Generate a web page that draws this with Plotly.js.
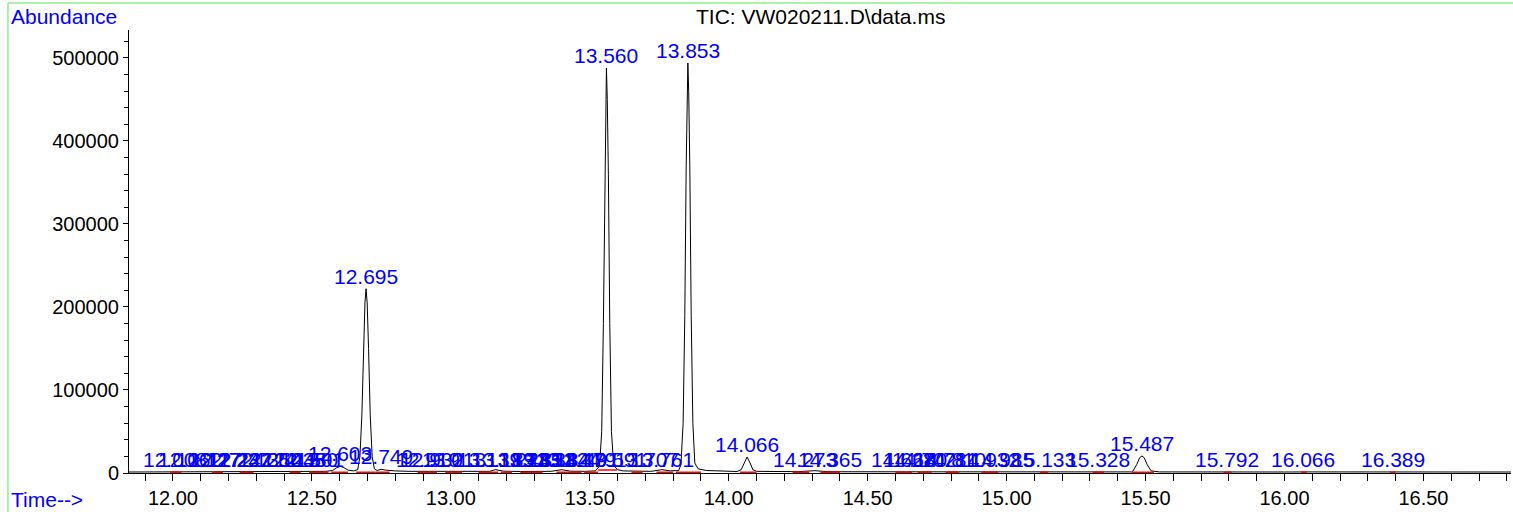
<!DOCTYPE html>
<html>
<head>
<meta charset="utf-8">
<script src="https://cdn.plot.ly/plotly-3.0.1.min.js"></script>
<style>html,body{margin:0;padding:0;background:#fff;}#chart{width:1513px;height:512px;}</style>
</head>
<body>
<div id="chart"></div>
<script>
// Total ion chromatogram (time in min, abundance)
var ticTime = [11.842, 11.90, 11.95, 12.00, 12.05, 12.10, 12.15, 12.20, 12.25, 12.30, 12.35, 12.40, 12.45, 12.50, 12.55, 12.575, 12.59, 12.603, 12.615, 12.63, 12.65, 12.665, 12.673, 12.680, 12.686, 12.691, 12.695, 12.699, 12.704, 12.710, 12.717, 12.725, 12.735, 12.749, 12.765, 12.80, 12.85, 12.90, 12.932, 12.96, 13.00, 13.05, 13.10, 13.14, 13.16, 13.19, 13.25, 13.30, 13.36, 13.40, 13.43, 13.48, 13.52, 13.535, 13.543, 13.549, 13.554, 13.557, 13.560, 13.563, 13.567, 13.572, 13.578, 13.586, 13.60, 13.62, 13.66, 13.72, 13.76, 13.79, 13.82, 13.828, 13.836, 13.842, 13.847, 13.850, 13.853, 13.856, 13.860, 13.865, 13.871, 13.878, 13.89, 13.92, 13.95, 14.00, 14.03, 14.045, 14.055, 14.066, 14.077, 14.087, 14.10, 14.15, 14.20, 14.25, 14.31, 14.35, 14.40, 14.50, 14.60, 14.70, 14.80, 14.90, 15.00, 15.10, 15.20, 15.30, 15.40, 15.45, 15.455, 15.468, 15.479, 15.487, 15.495, 15.506, 15.52, 15.55, 15.60, 15.70, 15.80, 15.90, 16.00, 16.10, 16.20, 16.30, 16.40, 16.50, 16.60, 16.70, 16.815];
var ticAbund = [1200, 1300, 1200, 1400, 1300, 1200, 1300, 1400, 1300, 1400, 1300, 1500, 1600, 1700, 2000, 3000, 6500, 8000, 6500, 3500, 2500, 4000, 20000, 70000, 150000, 205000, 222000, 205000, 150000, 70000, 20000, 5000, 3000, 4500, 3500, 2500, 2000, 2000, 2500, 2000, 1800, 1800, 1900, 2000, 4000, 2200, 1800, 1900, 2000, 4000, 2200, 2000, 2500, 8000, 50000, 180000, 360000, 450000, 488000, 450000, 360000, 180000, 50000, 9000, 4000, 2500, 2000, 2000, 4000, 2500, 3000, 10000, 60000, 190000, 370000, 460000, 494000, 460000, 370000, 190000, 60000, 12000, 5000, 3000, 2500, 1800, 1800, 4000, 12000, 19300, 12000, 4000, 2000, 1600, 1500, 1600, 2800, 1700, 1500, 1400, 1500, 1400, 1300, 1400, 1300, 1300, 1400, 1300, 1300, 1300, 2500, 10000, 18500, 20500, 18500, 10000, 2500, 1300, 1200, 1200, 1300, 1200, 1200, 1300, 1200, 1200, 1200, 1200, 1200, 1200, 1200];

// Peak labels (retention time, apex abundance)
var labelTimes = [12.008, 12.062, 12.127, 12.172, 12.237, 12.242, 12.350, 12.412, 12.435, 12.480, 12.501, 12.603, 12.695, 12.749, 12.919, 12.932, 13.013, 13.139, 13.189, 13.244, 13.285, 13.331, 13.384, 13.424, 13.479, 13.491, 13.560, 13.591, 13.707, 13.761, 13.853, 14.066, 14.273, 14.365, 14.628, 14.670, 14.702, 14.781, 14.810, 14.932, 14.985, 15.133, 15.328, 15.487, 15.792, 16.066, 16.389];
var labelHeights = [1500, 1500, 1500, 1500, 1500, 1500, 1500, 1500, 1500, 1500, 1500, 8500, 222000, 4500, 1500, 1500, 1500, 1500, 1500, 1500, 1500, 1500, 1500, 1500, 1500, 1500, 488000, 1500, 1500, 1500, 494000, 19300, 1500, 1500, 1500, 1500, 1500, 1500, 1500, 1500, 1500, 1500, 1500, 20500, 1500, 1500, 1500];

// Integration baselines (red)
var intStart = [11.99, 12.14, 12.24, 12.42, 12.49, 12.57, 12.66, 12.73, 12.88, 12.98, 13.10, 13.18, 13.25, 13.38, 13.48, 13.53, 13.65, 13.74, 13.81, 14.04, 14.23, 14.33, 14.60, 14.68, 14.78, 14.91, 15.12, 15.31, 15.45, 15.78, 16.06, 16.38];
var intEnd   = [12.03, 12.18, 12.29, 12.46, 12.56, 12.63, 12.73, 12.78, 12.95, 13.04, 13.17, 13.22, 13.33, 13.47, 13.53, 13.598, 13.69, 13.80, 13.90, 14.10, 14.29, 14.40, 14.66, 14.73, 14.83, 14.97, 15.15, 15.35, 15.53, 15.81, 16.08, 16.40];
var intLevel = [900, 900, 900, 900, 900, 900, 900, 900, 900, 900, 900, 900, 900, 900, 900, 3600, 900, 900, 900, 900, 900, 900, 900, 900, 900, 900, 900, 900, 900, 900, 900, 900];

var titleText = "TIC: VW020211.D\\data.ms";
var yLabel = "Abundance";
var xLabel = "Time-->";

var FONT = "Liberation Sans, Arial, sans-serif";
var FS = 20;
var FSA = 21;

var redX = [], redY = [];
for (var i = 0; i < intStart.length; i++) {
  redX.push(intStart[i], intEnd[i], null);
  redY.push(intLevel[i], intLevel[i], null);
}

var traces = [
  {x: ticTime, y: ticAbund, type: 'scatter', mode: 'lines', line: {color: '#000000', width: 1}, hoverinfo: 'skip'},
  {x: redX, y: redY, type: 'scatter', mode: 'lines', line: {color: '#ff0000', width: 1.5}, connectgaps: false, hoverinfo: 'skip'}
];

var annotations = labelTimes.map(function (t, i) {
  return {x: t, y: labelHeights[i], xref: 'x', yref: 'y', text: t.toFixed(3), showarrow: false,
          xanchor: 'center', yanchor: 'bottom', font: {family: FONT, size: FSA, color: '#0000ff'}, borderpad: 0};
});
annotations.push({x: 0.5, y: 1, xref: 'paper', yref: 'paper', text: titleText, showarrow: false,
  xanchor: 'center', yanchor: 'bottom', yshift: 0, font: {family: FONT, size: FSA, color: '#000000'}});
annotations.push({x: -0.0869, y: 1, xref: 'paper', yref: 'paper', text: yLabel, showarrow: false,
  xanchor: 'left', yanchor: 'bottom', yshift: 0, font: {family: FONT, size: FSA, color: '#0000ff'}});
annotations.push({x: -0.0869, y: 0, xref: 'paper', yref: 'paper', text: xLabel, showarrow: false,
  xanchor: 'left', yanchor: 'top', yshift: -13, font: {family: FONT, size: FSA, color: '#0000ff'}});

var layout = {
  width: 1513, height: 512,
  margin: {l: 129, r: 2, t: 30, b: 39, pad: 0},
  paper_bgcolor: '#ffffff', plot_bgcolor: '#ffffff',
  showlegend: false,
  xaxis: {
    range: [11.842, 16.815], tick0: 12, dtick: 0.5, tickformat: '.2f',
    ticks: 'outside', ticklen: 7, tickwidth: 1, tickcolor: '#000000',
    showline: true, linecolor: '#000000', linewidth: 1, showgrid: false, zeroline: false,
    tickfont: {family: FONT, size: FS, color: '#000000'},
    minor: {dtick: 0.1, tick0: 12, ticks: 'outside', ticklen: 7, tickwidth: 1, tickcolor: '#000000', showgrid: false}
  },
  yaxis: {
    range: [0, 533700], tick0: 0, dtick: 100000, tickformat: 'd',
    ticks: 'outside', ticklen: 5, tickwidth: 1, tickcolor: '#000000',
    showline: true, linecolor: '#000000', linewidth: 1, showgrid: false, zeroline: false,
    tickfont: {family: FONT, size: FS, color: '#000000'},
    minor: {dtick: 20000, ticks: 'outside', ticklen: 4, tickwidth: 1, tickcolor: '#000000', showgrid: false}
  },
  annotations: annotations,
  shapes: [
    {type: 'line', xref: 'paper', yref: 'paper', x0: -0.0876, x1: 1.01, y0: 1.0609, y1: 1.0609, line: {color: '#90ee90', width: 1.5}},
    {type: 'line', xref: 'paper', yref: 'paper', x0: -0.0876, x1: -0.0876, y0: 1.0609, y1: -0.1, line: {color: '#90ee90', width: 1.5}}
  ]
};

Plotly.newPlot('chart', traces, layout, {displayModeBar: false, staticPlot: true});
</script>
</body>
</html>
